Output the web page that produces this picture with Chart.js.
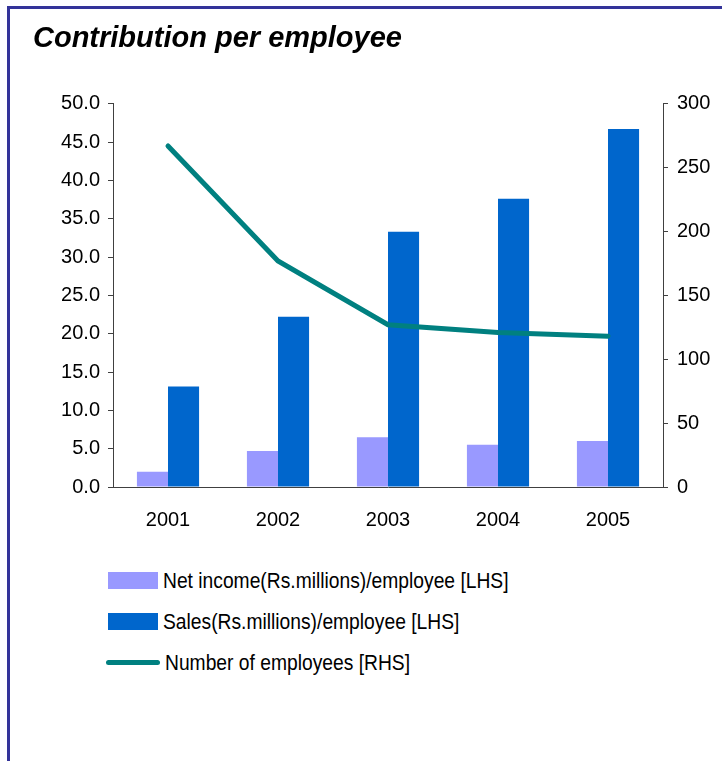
<!DOCTYPE html>
<html>
<head>
<meta charset="utf-8">
<title>Contribution per employee</title>
<script src="https://cdn.jsdelivr.net/npm/chart.js@4/dist/chart.umd.min.js"></script>
<style>
  html, body { margin: 0; padding: 0; background: #fff; }
  body { width: 722px; height: 761px; position: relative; overflow: hidden; font-family: "Liberation Sans", Arial, sans-serif; }
  #frame { position: absolute; left: 7px; top: 6px; width: 800px; height: 800px;
           border-left: 3px solid #333399; border-top: 3px solid #333399; }
  #wrap { position: absolute; left: 0; top: 0; width: 722px; height: 545px; }
  #legend { position: absolute; left: 106px; top: 560px; }
  .row { height: 41px; display: flex; align-items: center; }
  .sw { width: 50px; height: 17px; margin-left: 2px; }
  .ln { width: 54px; height: 5px; border-radius: 3px; }
  .txt { font-size: 22px; color: #000; white-space: nowrap; transform: scaleX(0.875); transform-origin: left center; margin-left: 5px; }
</style>
</head>
<body>
<div id="frame"></div>
<div id="wrap"><canvas id="chart" width="722" height="545"></canvas></div>
<div id="legend"></div>
<script>
// values
var years      = ['2001', '2002', '2003', '2004', '2005'];
var netIncome  = [2.0, 4.7, 6.5, 5.5, 6.0];        // Rs. millions per employee
var sales      = [13.1, 22.2, 33.3, 37.6, 46.7];   // Rs. millions per employee
var employees  = [267, 177, 127, 121, 118];

var leftMin = 0, leftMax = 50, leftStep = 5;
var rightMin = 0, rightMax = 300, rightStep = 50;

var axisColor = '#404040';
var tickFont = { family: 'Liberation Sans', size: 20 };

var chart = new Chart(document.getElementById('chart'), {
  type: 'bar',
  data: {
    labels: years,
    datasets: [
      {
        type: 'line',
        label: 'Number of employees [RHS]',
        data: employees,
        yAxisID: 'y1',
        borderColor: '#008080',
        backgroundColor: '#008080',
        borderWidth: 5,
        borderCapStyle: 'round',
        pointRadius: 0,
        tension: 0,
        order: 0
      },
      {
        label: 'Net income(Rs.millions)/employee [LHS]',
        data: netIncome,
        yAxisID: 'y',
        backgroundColor: '#9999FF',
        categoryPercentage: 0.565,
        barPercentage: 1,
        order: 1
      },
      {
        label: 'Sales(Rs.millions)/employee [LHS]',
        data: sales,
        yAxisID: 'y',
        backgroundColor: '#0066CC',
        categoryPercentage: 0.565,
        barPercentage: 1,
        order: 1
      }
    ]
  },
  options: {
    responsive: false,
    animation: false,
    events: [],
    layout: { padding: { left: 33, right: 0, top: 0, bottom: 0 } },
    plugins: {
      legend: { display: false },
      tooltip: { enabled: false },
      title: {
        display: true,
        text: 'Contribution per employee',
        align: 'start',
        color: '#000',
        font: { family: 'Liberation Sans', size: 29, weight: 'bold', style: 'italic' },
        padding: { top: 22, bottom: 47 }
      }
    },
    scales: {
      x: {
        type: 'category',
        offset: true,
        grid: { display: false, drawTicks: false },
        border: { display: true, color: axisColor, width: 1 },
        ticks: { color: '#000', font: tickFont, padding: 21, maxRotation: 0 },
        afterFit: function(s) { s.height = 58; }
      },
      y: {
        position: 'left',
        min: leftMin, max: leftMax,
        ticks: {
          stepSize: leftStep, color: '#000', font: tickFont, padding: 8,
          callback: function(v) { return Number(v).toFixed(1); }
        },
        grid: { drawOnChartArea: false, tickLength: 5, color: axisColor },
        border: { color: axisColor, width: 1 },
        afterFit: function(s) { s.width = 80; }
      },
      y1: {
        position: 'right',
        min: rightMin, max: rightMax,
        ticks: { stepSize: rightStep, color: '#000', font: tickFont, padding: 9 },
        grid: { drawOnChartArea: false, tickLength: 5, color: axisColor },
        border: { color: axisColor, width: 1 },
        afterFit: function(s) { s.width = 59; }
      }
    }
  }
});

// legend below the chart, built from the datasets (bars first, then line)
function buildLegend() {
  var box = document.getElementById('legend');
  var ds = chart.data.datasets;
  var orderList = [1, 2, 0];
  orderList.forEach(function(i) {
    var d = ds[i];
    var row = document.createElement('div');
    row.className = 'row';
    var mark = document.createElement('div');
    if (d.type === 'line') {
      mark.className = 'ln';
      mark.style.background = d.borderColor;
    } else {
      mark.className = 'sw';
      mark.style.background = d.backgroundColor;
    }
    var t = document.createElement('div');
    t.className = 'txt';
    t.textContent = d.label;
    row.appendChild(mark);
    row.appendChild(t);
    box.appendChild(row);
  });
}
buildLegend();
</script>
</body>
</html>
